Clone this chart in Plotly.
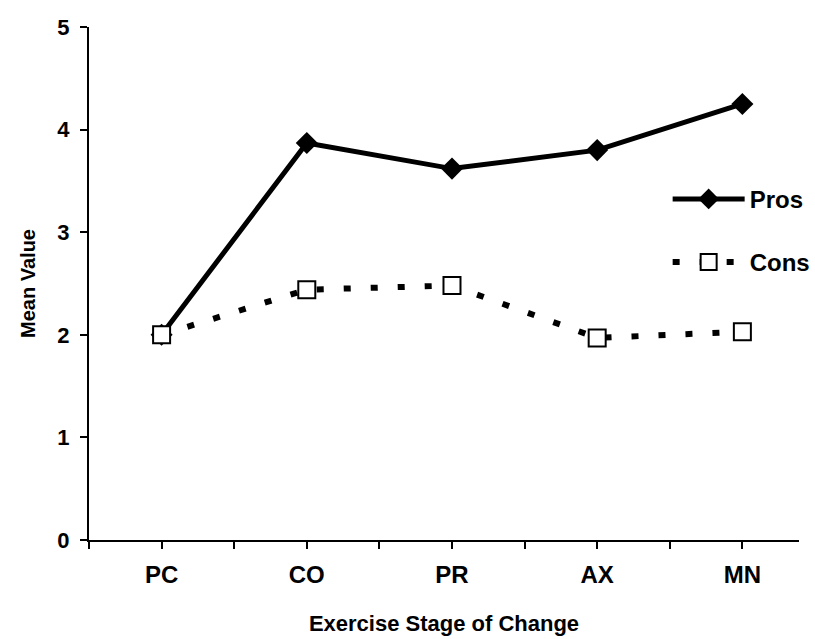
import plotly.graph_objects as go

stages = ["PC", "CO", "PR", "AX", "MN"]
pros = [2.0, 3.87, 3.62, 3.80, 4.25]
cons = [2.0, 2.44, 2.48, 1.97, 2.03]
y_ticks = [0, 1, 2, 3, 4, 5]

xpos = list(range(len(stages)))
font_family = "Liberation Sans, Arial, sans-serif"

fig = go.Figure()
fig.add_trace(go.Scatter(
    x=xpos, y=pros, name="Pros", mode="lines+markers", legendgroup="a",
    line=dict(color="black", width=5),
    marker=dict(symbol="diamond", size=17, color="black"),
))
fig.add_trace(go.Scatter(
    x=xpos, y=cons, name="Cons", mode="lines+markers", legendgroup="b",
    line=dict(color="black", width=6, dash="7px,20px"),
    marker=dict(symbol="square", size=17, color="white",
                line=dict(color="black", width=2)),
))

fig.update_layout(
    width=815, height=639,
    margin=dict(l=89, r=0, t=27, b=99),
    paper_bgcolor="white", plot_bgcolor="white",
    font=dict(family=font_family, size=22, color="black", weight="bold"),
    legend=dict(x=0.815, y=0.708, xanchor="left", yanchor="top",
                bgcolor="rgba(0,0,0,0)", itemwidth=72,
                tracegroupgap=29, font=dict(size=24, weight="bold")),
    xaxis=dict(
        range=[-0.5, 4.39], tickvals=xpos, ticktext=stages,
        showgrid=False, zeroline=False, showline=True, linecolor="black",
        linewidth=2, ticks="outside", ticklen=7, tickwidth=1.5, tickcolor="black",
        minor=dict(tick0=-0.5, dtick=1, ticks="outside", ticklen=7,
                   tickwidth=1.5, tickcolor="black"),
        tickfont=dict(size=24, weight="bold"),
        ticklabelstandoff=5,
        title=dict(text="Exercise Stage of Change", standoff=29,
                   font=dict(size=22, weight="bold")),
    ),
    yaxis=dict(
        range=[0, 5], tickvals=y_ticks,
        showgrid=False, zeroline=False, showline=True, linecolor="black",
        linewidth=2, ticks="outside", ticklen=7, tickwidth=1.5, tickcolor="black",
        tickfont=dict(size=22, weight="bold"),
        ticklabelstandoff=6,
        title=dict(text="Mean Value", standoff=16,
                   font=dict(size=20, weight="bold")),
    ),
)

fig.write_html("out.html")
